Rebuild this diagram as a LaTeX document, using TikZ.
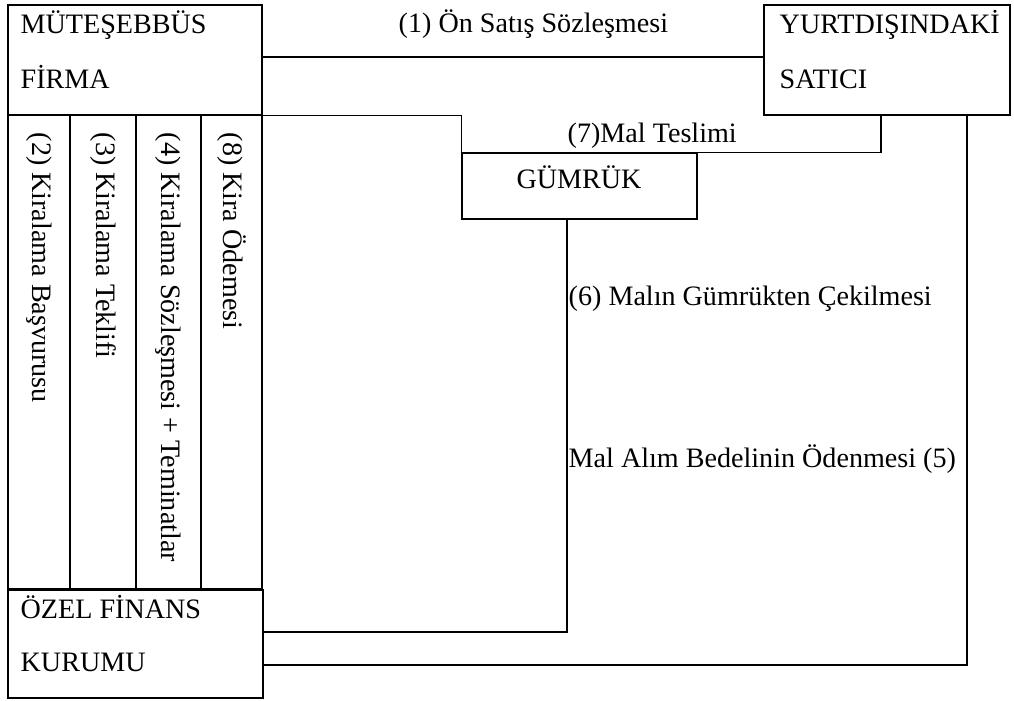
\documentclass[tikz,border=0pt]{standalone}
\usepackage{fontspec}
\setmainfont{Liberation Serif}
\tikzset{
    box/.style={draw, line width=0.8pt, inner sep=0pt},
    lbl/.style={font=\fontsize{16}{19}\selectfont, inner sep=0pt, anchor=base west},
    coltext/.style={font=\fontsize{16}{19}\selectfont, inner sep=0pt, anchor=west, rotate=-90}
}
\begin{document}
\begin{tikzpicture}[x=0.02cm, y=-0.02cm, line width=0.8pt]
    \useasboundingbox (0,0) rectangle (1014,700);
    % Parties
    \node[box, minimum width=5.08cm, minimum height=2.2cm] (firma) at (135,60) {};
    \node[lbl] (firmaA) at (20,33) {MÜTEŞEBBÜS};
    \node[lbl] (firmaB) at (20,88) {FİRMA};
    \node[box, minimum width=4.92cm, minimum height=2.2cm] (satici) at (887,60) {};
    \node[lbl] (saticiA) at (779,33) {YURTDIŞINDAKİ};
    \node[lbl] (saticiB) at (779,88) {SATICI};
    \node[box, minimum width=4.7cm, minimum height=1.32cm] (gumruk) at (579.5,186) {};
    \node[lbl, anchor=base] (gumrukA) at (579,188) {GÜMRÜK};
    \node[box, minimum width=5.1cm, minimum height=2.16cm] (ozel) at (135.5,644) {};
    \node[lbl] (ozelA) at (20,618) {ÖZEL FİNANS};
    \node[lbl] (ozelB) at (20,671) {KURUMU};
    % Leasing steps between firm and finance institution
    \foreach \xa/\xb/\nm/\txt in {8/70/basvuru/(2) Kiralama Başvurusu,
                                 70/136/teklif/(3) Kiralama Teklifi,
                                 136/201/sozlesme/(4) Kiralama Sözleşmesi + Teminatlar,
                                 201/262/kira/(8) Kira Ödemesi}{
        \draw (\xa,115) rectangle (\xb,589);
        \node[coltext] (\nm) at ({(\xa+\xb)/2},132) {\txt};
    }
    % Connectors
    \draw ([yshift=1.7pt]firma.east) -- ([yshift=1.7pt]satici.west);
    \node[lbl] (onsatis) at (398,32) {(1) Ön Satış Sözleşmesi};
    \draw (firma.south east) -| (gumruk.north west);
    \coordinate (teslim) at (881,115);
    \draw (teslim) |- (gumruk.north east);
    \node[lbl] (malteslim) at (567,142) {(7)Mal Teslimi};
    \coordinate (cekme) at (567,219);
    \coordinate (ozelC) at (263,632);
    \draw (cekme) |- (ozelC);
    \node[lbl] (cekilme) at (568,305) {(6) Malın Gümrükten Çekilmesi};
    \coordinate (odeme) at (967,115);
    \coordinate (ozelD) at (263,665);
    \draw (odeme) |- (ozelD);
    \node[lbl] (bedel) at (568,467) {Mal Alım Bedelinin Ödenmesi (5)};
\end{tikzpicture}
\end{document}
